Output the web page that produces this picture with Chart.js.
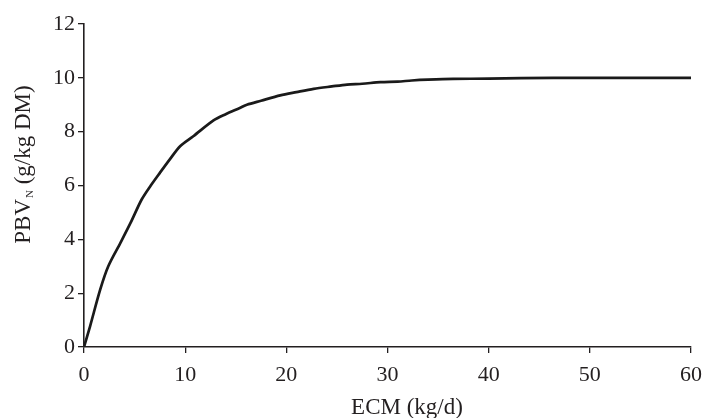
<!DOCTYPE html>
<html>
<head>
<meta charset="utf-8">
<script src="https://cdn.jsdelivr.net/npm/chart.js@4"></script>
<style>
  html, body { margin: 0; padding: 0; background: #fff; }
  #wrap { width: 705px; height: 418px; }
</style>
</head>
<body>
<div id="wrap"><canvas id="c" width="705" height="418"></canvas></div>
<script>
// ECM (kg/d) values
const ecm = [0, 0.6, 1.6, 2.4, 3.6, 4.6, 5.7, 6.6, 7.5, 8.5, 9.5, 10.8, 12.8, 14, 15.4, 16.1, 17.5, 19.4, 21, 22.7, 24.5, 26, 27.5, 29.3, 31, 32.4, 34, 36.5, 40, 46.4, 50, 55, 60];
// PBV_N (g/kg DM) values
const pbvN = [0, 0.77, 2.13, 3.0, 3.87, 4.61, 5.48, 6.0, 6.47, 6.98, 7.46, 7.83, 8.42, 8.65, 8.88, 9.0, 9.15, 9.35, 9.47, 9.59, 9.68, 9.75, 9.78, 9.84, 9.86, 9.9, 9.93, 9.96, 9.97, 10.0, 10.0, 10.0, 10.0];
const xTicks = [0, 10, 20, 30, 40, 50, 60];
const yTicks = [0, 2, 4, 6, 8, 10, 12];
const xTitle = "ECM (kg/d)";
const yTitleMain = "PBV";
const yTitleSub = "N";
const yTitleRest = " (g/kg DM)";

const FONT = "'Liberation Serif', 'Times New Roman', serif";
const INK = '#231f20';

const titlePlugin = {
  id: 'axisTitles',
  afterDraw(chart) {
    const ctx = chart.ctx;
    ctx.save();
    ctx.fillStyle = INK;
    ctx.font = "23px " + FONT;
    ctx.textAlign = 'center';
    ctx.textBaseline = 'alphabetic';
    ctx.fillText(xTitle, 407, 414);
    // Y title rotated with subscript
    ctx.translate(22, 165);
    ctx.rotate(-Math.PI / 2);
    ctx.textAlign = 'left';
    const bigFont = "23px " + FONT;
    const subFont = "11px " + FONT;
    ctx.font = bigFont;
    const w1 = ctx.measureText(yTitleMain).width;
    const w3 = ctx.measureText(yTitleRest).width;
    ctx.font = subFont;
    const w2 = ctx.measureText(yTitleSub).width;
    const total = w1 + w2 + w3;
    const x0 = -total / 2;
    const base = 8;
    ctx.font = bigFont;
    ctx.fillText(yTitleMain, x0, base);
    ctx.font = subFont;
    ctx.fillText(yTitleSub, x0 + w1 + 1, base + 3);
    ctx.font = bigFont;
    ctx.fillText(yTitleRest, x0 + w1 + w2 + 1, base);
    ctx.restore();
  }
};

new Chart(document.getElementById('c'), {
  type: 'scatter',
  data: {
    datasets: [{
      data: ecm.map((v, i) => ({ x: v, y: pbvN[i] })),
      showLine: true,
      borderColor: '#1a1a1a',
      borderWidth: 2.7,
      pointRadius: 0,
      tension: 0.3,
      fill: false
    }]
  },
  options: {
    responsive: false,
    animation: false,
    devicePixelRatio: 1,
    layout: { padding: { left: 0, right: 14, top: 24, bottom: 0 } },
    plugins: { legend: { display: false }, tooltip: { enabled: false } },
    scales: {
      x: {
        type: 'linear',
        min: 0, max: 60,
        afterFit(s) { s.height = 71; s.paddingLeft = 0; s.paddingRight = 0; },
        afterBuildTicks(s) { s.ticks = xTicks.map(v => ({ value: v })); },
        grid: { display: true, drawOnChartArea: false, tickLength: 6, color: INK, lineWidth: 1.3 },
        border: { display: true, color: INK, width: 1.6 },
        ticks: { color: INK, font: { family: FONT, size: 22 }, padding: 9, maxRotation: 0 }
      },
      y: {
        type: 'linear',
        min: 0, max: 12,
        afterFit(s) { s.width = 84; s.paddingTop = 0; s.paddingBottom = 0; },
        afterBuildTicks(s) { s.ticks = yTicks.map(v => ({ value: v })); },
        grid: { display: true, drawOnChartArea: false, tickLength: 6, color: INK, lineWidth: 1.3 },
        border: { display: true, color: INK, width: 1.6 },
        ticks: { color: INK, font: { family: FONT, size: 22 }, padding: 3 }
      }
    }
  },
  plugins: [titlePlugin]
});
</script>
</body>
</html>
